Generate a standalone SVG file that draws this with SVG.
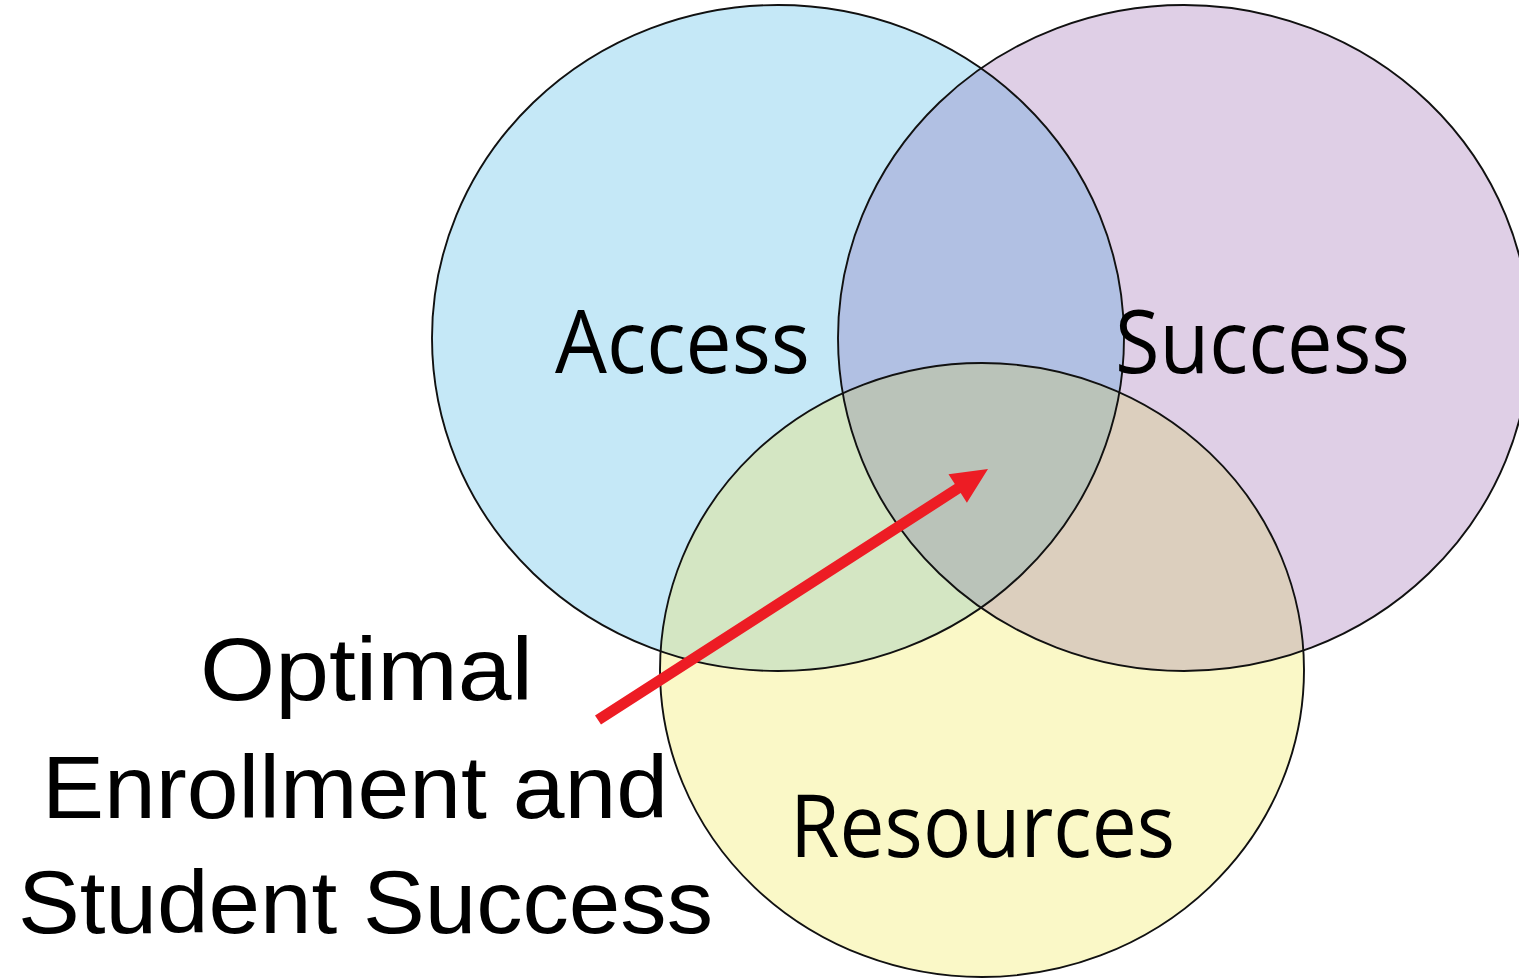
<svg xmlns="http://www.w3.org/2000/svg" width="1519" height="979" viewBox="0 0 1519 979">
<style>
.outline{fill:none;stroke:#111;stroke-width:1.9}
.lbl{font-family:"Open Sans","Liberation Sans",sans-serif;font-size:88px;fill:#000}
.cap{font-family:"Liberation Sans","Open Sans",sans-serif;font-size:89px;fill:#000}
</style>
<defs>
<clipPath id="cA"><ellipse cx="778" cy="338" rx="346" ry="333"/></clipPath>
<clipPath id="cS"><ellipse cx="1184" cy="338" rx="346" ry="333"/></clipPath>
<clipPath id="cR"><ellipse cx="982" cy="670" rx="322" ry="307"/></clipPath>
</defs>
<rect width="1519" height="979" fill="#fff"/>
<g id="access">
<ellipse cx="778" cy="338" rx="346" ry="333" fill="#C5E8F7"/>
</g>
<g id="success">
<ellipse cx="1184" cy="338" rx="346" ry="333" fill="#DFCFE6"/>
</g>
<g id="resources">
<ellipse cx="982" cy="670" rx="322" ry="307" fill="#FAF8C7"/>
</g>
<g id="overlaps">
<g clip-path="url(#cA)"><ellipse cx="1184" cy="338" rx="346" ry="333" fill="#B1C0E3"/></g>
<g clip-path="url(#cA)"><ellipse cx="982" cy="670" rx="322" ry="307" fill="#D4E6C3"/></g>
<g clip-path="url(#cS)"><ellipse cx="982" cy="670" rx="322" ry="307" fill="#DCCFBE"/></g>
<g clip-path="url(#cA)"><g clip-path="url(#cS)"><ellipse cx="982" cy="670" rx="322" ry="307" fill="#BAC3B9"/></g></g>
</g>
<g id="outlines">
<ellipse class="outline" cx="778" cy="338" rx="346" ry="333"/>
<ellipse class="outline" cx="1184" cy="338" rx="346" ry="333"/>
<ellipse class="outline" cx="982" cy="670" rx="322" ry="307"/>
</g>
<g id="labels">
<text class="lbl" x="555" y="373" textLength="255" lengthAdjust="spacingAndGlyphs">Access</text>
<text class="lbl" x="1115" y="373" textLength="295" lengthAdjust="spacingAndGlyphs">Success</text>
<text class="lbl" x="790" y="857" textLength="385" lengthAdjust="spacingAndGlyphs">Resources</text>
</g>
<g id="connectors">
<polygon fill="#ED1C24" points="595.0,715.4 954.8,483.9 948.5,474.2 988,469 966.9,502.8 960.7,493.1 601.0,724.6"/>
</g>
<g id="caption">
<text class="cap" x="200" y="700" textLength="333" lengthAdjust="spacingAndGlyphs">Optimal</text>
<text class="cap" x="42" y="818" textLength="626" lengthAdjust="spacingAndGlyphs">Enrollment and</text>
<text class="cap" x="18" y="933" textLength="695" lengthAdjust="spacingAndGlyphs">Student Success</text>
</g>
</svg>
